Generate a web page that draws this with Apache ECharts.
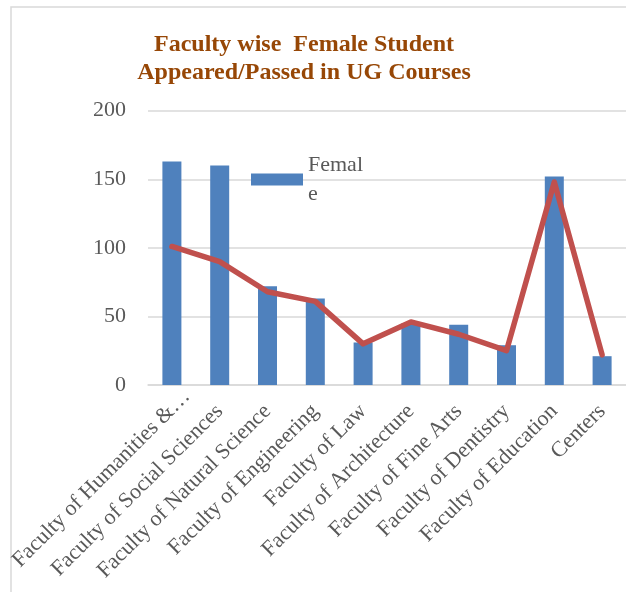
<!DOCTYPE html>
<html>
<head>
<meta charset="utf-8">
<script src="https://cdn.jsdelivr.net/npm/echarts@6/dist/echarts.min.js"></script>
<style>
html,body{margin:0;padding:0;background:#fff;}
#chart{width:626px;height:592px;}
</style>
</head>
<body>
<div id="chart"></div>
<script>
const categories = ['Faculty of Humanities &\u2026', 'Faculty of Social Sciences', 'Faculty of Natural Science', 'Faculty of Engineering', 'Faculty of Law', 'Faculty of Architecture', 'Faculty of Fine Arts', 'Faculty of Dentistry', 'Faculty of Education', 'Centers'];
const femaleValues = [163, 160, 72, 63, 31, 45, 44, 29, 152, 21];
const lineValues = [101, 90, 68, 61, 30, 46, 37, 25, 148, 22];
const yTicks = [0, 50, 100, 150, 200];
const titleLines = ['Faculty wise  Female Student', 'Appeared/Passed in UG Courses'];

const serif = '"Liberation Serif", "Times New Roman", serif';
const chart = echarts.init(document.getElementById('chart'), null, {renderer: 'canvas'});

const xData = categories.map((c, i) => i === 0 ? {value: c, textStyle: {padding: [0, -21, 0, 0]}} : c);

chart.setOption({
  backgroundColor: '#ffffff',
  animation: false,
  graphic: [{
    type: 'rect',
    shape: {x: 11, y: 7, width: 800, height: 800},
    style: {fill: 'none', stroke: '#d9d9d9', lineWidth: 1.5},
    silent: true,
    z: -10
  }],
  title: {
    text: titleLines.join('\n'),
    left: 299,
    top: 26,
    padding: 5,
    textAlign: 'center',
    textStyle: {
      fontFamily: serif, fontWeight: 'bold', fontSize: 24, color: '#974706',
      lineHeight: 28
    }
  },
  legend: {
    data: ['Female'],
    left: 246,
    top: 116,
    itemWidth: 52,
    itemHeight: 12,
    itemGap: 5,
    icon: 'rect',
    formatter: function (name) { return name.slice(0, 5) + '\n' + name.slice(5); },
    textStyle: {fontFamily: serif, fontSize: 22, color: '#595959', lineHeight: 29, padding: [59, 0, 0, 0]}
  },
  grid: {left: 148, top: 110.7, width: 480, bottom: 207},
  xAxis: {
    type: 'category',
    data: xData,
    axisLine: {show: true, lineStyle: {color: '#d9d9d9', width: 1.5}},
    axisTick: {show: false},
    axisLabel: {
      interval: 0, rotate: 45, margin: 23,
      fontFamily: serif, fontSize: 22, color: '#595959'
    }
  },
  yAxis: {
    type: 'value',
    min: yTicks[0], max: yTicks[yTicks.length - 1], interval: 50,
    axisLine: {show: false},
    axisTick: {show: false},
    splitLine: {lineStyle: {color: '#d9d9d9', width: 1.5}},
    axisLabel: {margin: 22, fontFamily: serif, fontSize: 22, color: '#595959'}
  },
  series: [
    {
      name: 'Female',
      type: 'bar',
      data: femaleValues,
      barWidth: 19,
      itemStyle: {color: '#4F81BD'},
      z: 2
    },
    {
      name: 'Trend',
      type: 'line',
      data: lineValues,
      showSymbol: false,
      symbol: 'none',
      lineStyle: {color: '#C0504D', width: 5.5, cap: 'round', join: 'round'},
      itemStyle: {color: '#C0504D'},
      z: 3
    }
  ]
});
</script>
</body>
</html>
